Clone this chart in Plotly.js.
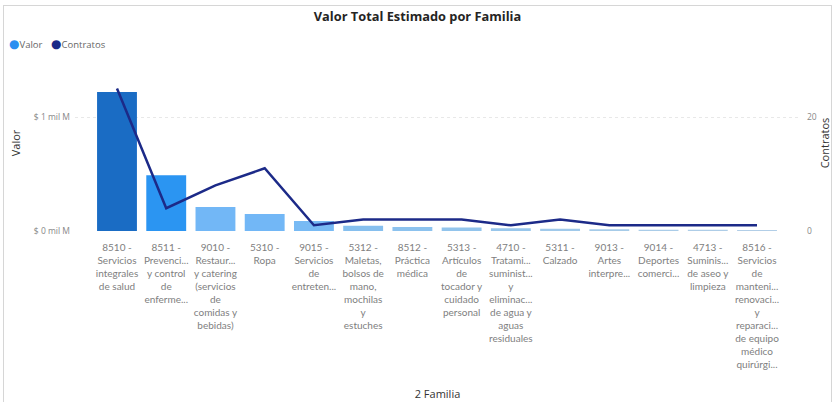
<!DOCTYPE html>
<html>
<head>
<meta charset="utf-8">
<script src="https://cdn.plot.ly/plotly-3.0.1.min.js"></script>
<style>
  html,body{margin:0;padding:0;background:#fff;}
  #wrap{position:relative;width:835px;height:402px;overflow:hidden;}
  #frame{position:absolute;left:3px;top:5px;width:829px;height:420px;border:1px solid #d6d6d6;box-sizing:border-box;pointer-events:none;}
  #chart{position:absolute;left:0;top:0;width:835px;height:402px;}
</style>
</head>
<body>
<div id="wrap">
  <div id="chart"></div>
  <div id="frame"></div>
</div>
<script>
// ---- data ----
const categories = [
  "8510 -<br>Servicios<br>integrales<br>de salud",
  "8511 -<br>Prevenci...<br>y control<br>de<br>enferme...",
  "9010 -<br>Restaur...<br>y catering<br>(servicios<br>de<br>comidas y<br>bebidas)",
  "5310 -<br>Ropa",
  "9015 -<br>Servicios<br>de<br>entreten...",
  "5312 -<br>Maletas,<br>bolsos de<br>mano,<br>mochilas<br>y<br>estuches",
  "8512 -<br>Práctica<br>médica",
  "5313 -<br>Artículos<br>de<br>tocador y<br>cuidado<br>personal",
  "4710 -<br>Tratami...<br>suminist...<br>y<br>eliminac...<br>de agua y<br>aguas<br>residuales",
  "5311 -<br>Calzado",
  "9013 -<br>Artes<br>interpre...",
  "9014 -<br>Deportes<br>comerci...",
  "4713 -<br>Suminis...<br>de aseo y<br>limpieza",
  "8516 -<br>Servicios<br>de<br>manteni...<br>renovaci...<br>y<br>reparaci...<br>de equipo<br>médico<br>quirúrgi..."
];
const valor = [1.22e9, 0.49e9, 0.21e9, 0.15e9, 0.088e9, 0.045e9, 0.035e9, 0.03e9, 0.025e9, 0.02e9, 0.015e9, 0.012e9, 0.01e9, 0.008e9];
const contratos = [25, 4, 8, 11, 1, 2, 2, 2, 1, 2, 1, 1, 1, 1];
const barColors = ["#1a6cc4", "#2b95f2", "#72b7f6", "#72b7f6", "#78baf4", "#86bfee", "#8cc2ee", "#92c4ec", "#98c6eb", "#a0c9ea", "#a6cbe8", "#aacce8", "#aecde7", "#b2cee7"];
const yTickVals = [0, 1e9];
const yTickText = ["$ 0 mil M", "$ 1 mil M"];
const y2TickVals = [0, 20];
const legendNames = ["Valor", "Contratos"];
const legendColors = ["#2b8ff0", "#1c2a88"];

const idx = categories.map((c, i) => i);

const traces = [
  {
    type: "bar", name: legendNames[0], x: idx, y: valor,
    marker: {color: barColors}, showlegend: false, yaxis: "y"
  },
  {
    type: "scatter", mode: "lines", name: legendNames[1], x: idx, y: contratos,
    line: {color: "#1c2a88", width: 2.5}, yaxis: "y2", showlegend: false
  }
];

// compact Power BI-like legend (dot + label)
const L = 75, PW = 725, PH = 176, BOT = 231;
const legendX = [7, 49];
const legendAnn = legendNames.map((n, i) => ({
  xref: "paper", yref: "paper", x: (legendX[i] - L) / PW, y: (BOT - 43) / PH,
  xanchor: "left", yanchor: "middle", showarrow: false,
  text: "<span style='color:" + legendColors[i] + ";font-size:12px'>●</span>" + n,
  font: {size: 9.5, color: "#666"}
}));

const layout = {
  width: 835, height: 402,
  margin: {l: 75, r: 35, t: 55, b: 171},
  paper_bgcolor: "rgba(0,0,0,0)", plot_bgcolor: "rgba(0,0,0,0)",
  font: {family: "'Open Sans', 'DejaVu Sans', sans-serif", color: "#666", size: 9},
  title: {
    text: "<b>Valor Total Estimado por Familia</b>",
    x: 0.5, xref: "container", xanchor: "center",
    y: 1 - 17 / 402, yref: "container", yanchor: "middle",
    font: {size: 12.8, color: "#252423", family: "'Open Sans', sans-serif"}
  },
  bargap: 0.19,
  showlegend: false,
  annotations: legendAnn,
  xaxis: {
    range: [-0.853, 13.873],
    tickmode: "array", tickvals: idx, ticktext: categories,
    tickangle: 0, showgrid: false, zeroline: false, showline: false,
    ticks: "", ticklen: 0, ticklabelstandoff: 9,
    tickfont: {size: 10, color: "#808080", family: "Lato, 'Open Sans', sans-serif"},
    automargin: false,
    title: {text: "2 Familia", font: {size: 11, color: "#333"}, standoff: 21}
  },
  yaxis: {
    range: [0, 1.544e9],
    tickmode: "array", tickvals: yTickVals, ticktext: yTickText,
    showgrid: true, gridcolor: "#e8e8e8", griddash: "dot", gridwidth: 1,
    zeroline: false, showline: false, ticks: "", automargin: false,
    tickfont: {size: 8.5, color: "#888"}, ticklabelstandoff: 4,
    title: {text: "Valor", font: {size: 11, color: "#333"}, standoff: 10}
  },
  yaxis2: {
    overlaying: "y", side: "right",
    range: [0, 30.877],
    tickmode: "array", tickvals: y2TickVals,
    showgrid: false, zeroline: false, showline: false, ticks: "", automargin: false,
    tickfont: {size: 8.5, color: "#888"}, ticklabelstandoff: 6,
    title: {text: "Contratos", font: {size: 11, color: "#333"}, standoff: 2}
  }
};

Plotly.newPlot("chart", traces, layout, {displayModeBar: false, staticPlot: true});
</script>
</body>
</html>
